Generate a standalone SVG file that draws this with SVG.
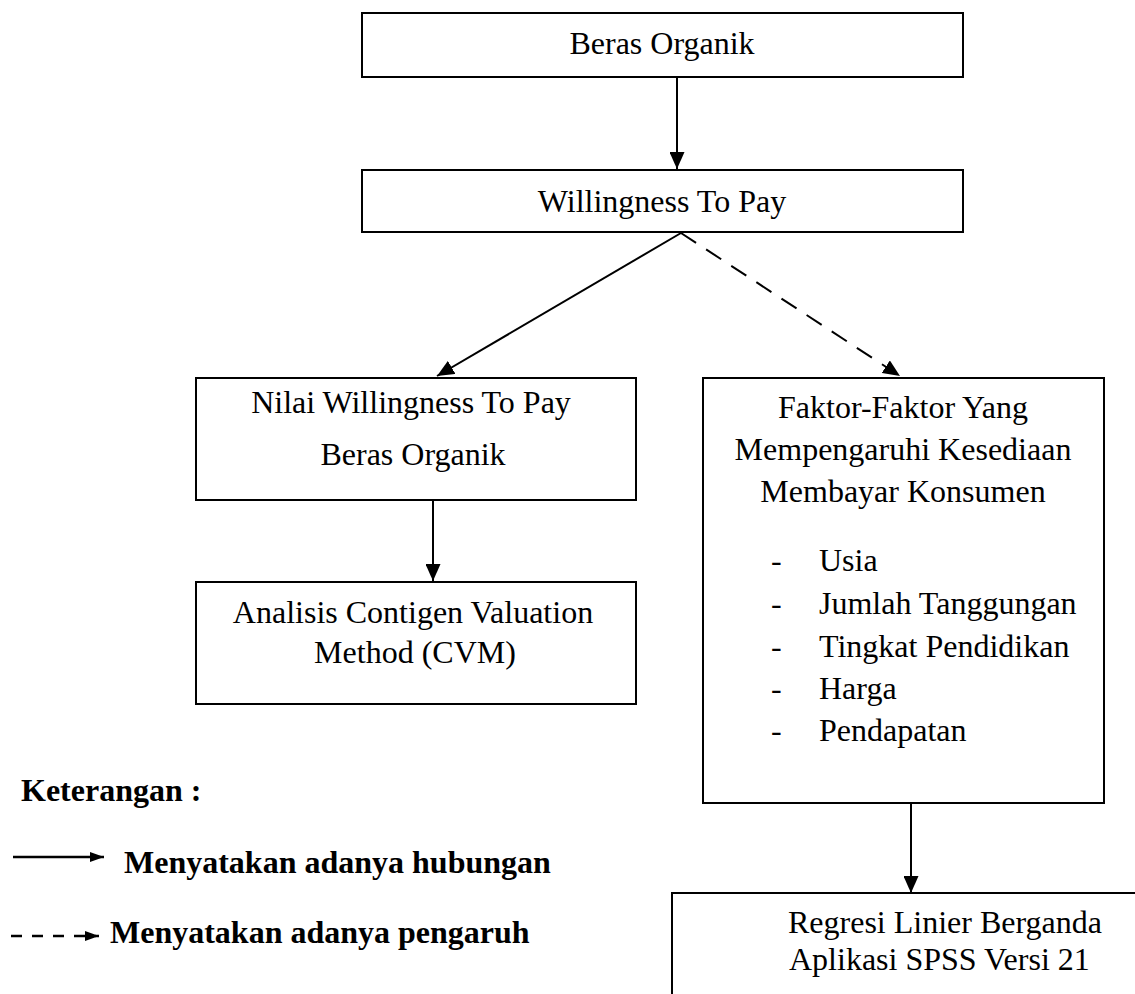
<svg xmlns="http://www.w3.org/2000/svg" width="1135" height="994" viewBox="0 0 1135 994">
<style>
.box{fill:#fff;stroke:#000;stroke-width:2}
.t{font-family:"Liberation Serif","Times New Roman",serif;font-size:32px;fill:#000}
.c{text-anchor:middle}
.b{font-weight:bold}
.ln{stroke:#000;stroke-width:2;fill:none}
.dash{stroke-dasharray:18 12}
</style>
<defs>
<marker id="ah" markerUnits="userSpaceOnUse" markerWidth="17" markerHeight="15" refX="17" refY="7.5" orient="auto">
<path d="M0,0 L17,7.5 L0,15 z" fill="#000"/>
</marker>
<marker id="ahs" markerUnits="userSpaceOnUse" markerWidth="14" markerHeight="10" refX="14" refY="5" orient="auto">
<path d="M0,0 L14,5 L0,10 z" fill="#000"/>
</marker>
</defs>
<rect width="1135" height="994" fill="#fff"/>
<g id="connectors">
<line class="ln" x1="677" y1="77" x2="677" y2="169" marker-end="url(#ah)"/>
<line class="ln" x1="681" y1="233" x2="437" y2="376" marker-end="url(#ah)"/>
<line class="ln dash" x1="681" y1="233" x2="900" y2="376" marker-end="url(#ah)"/>
<line class="ln" x1="433" y1="500" x2="433" y2="581" marker-end="url(#ah)"/>
<line class="ln" x1="911" y1="803" x2="911" y2="893" marker-end="url(#ah)"/>
</g>
<g id="beras-organik">
<rect class="box" x="362" y="13" width="601" height="64"/>
<text class="t c" x="662" y="54">Beras Organik</text>
</g>
<g id="willingness">
<rect class="box" x="362" y="170" width="601" height="62"/>
<text class="t c" x="662" y="212">Willingness To Pay</text>
</g>
<g id="nilai">
<rect class="box" x="196" y="378" width="440" height="122"/>
<text class="t c" x="411" y="413">Nilai Willingness To Pay</text>
<text class="t c" x="413" y="465">Beras Organik</text>
</g>
<g id="analisis">
<rect class="box" x="196" y="582" width="440" height="122"/>
<text class="t c" x="413" y="623">Analisis Contigen Valuation</text>
<text class="t c" x="415" y="663">Method (CVM)</text>
</g>
<g id="faktor">
<rect class="box" x="703" y="378" width="401" height="425"/>
<text class="t c" x="903" y="418">Faktor-Faktor Yang</text>
<text class="t c" x="903" y="460">Mempengaruhi Kesediaan</text>
<text class="t c" x="903" y="502">Membayar Konsumen</text>
<text class="t" x="771" y="571">-</text><text class="t" x="819" y="571">Usia</text>
<text class="t" x="771" y="614">-</text><text class="t" x="819" y="614">Jumlah Tanggungan</text>
<text class="t" x="771" y="657">-</text><text class="t" x="819" y="657">Tingkat Pendidikan</text>
<text class="t" x="771" y="699">-</text><text class="t" x="819" y="699">Harga</text>
<text class="t" x="771" y="741">-</text><text class="t" x="819" y="741">Pendapatan</text>
</g>
<g id="regresi">
<rect class="box" x="672" y="893" width="480" height="120"/>
<text class="t" x="788" y="933">Regresi Linier Berganda</text>
<text class="t" x="789" y="970">Aplikasi SPSS Versi 21</text>
</g>
<g id="legend">
<text class="t b" x="21" y="801">Keterangan :</text>
<line x1="13" y1="857" x2="104" y2="857" stroke="#000" stroke-width="2.5" marker-end="url(#ahs)"/>
<text class="t b" x="124" y="873">Menyatakan adanya hubungan</text>
<line x1="11" y1="936" x2="99" y2="936" stroke="#000" stroke-width="2.5" stroke-dasharray="11 10" marker-end="url(#ahs)"/>
<text class="t b" x="110" y="943">Menyatakan adanya pengaruh</text>
</g>
</svg>
